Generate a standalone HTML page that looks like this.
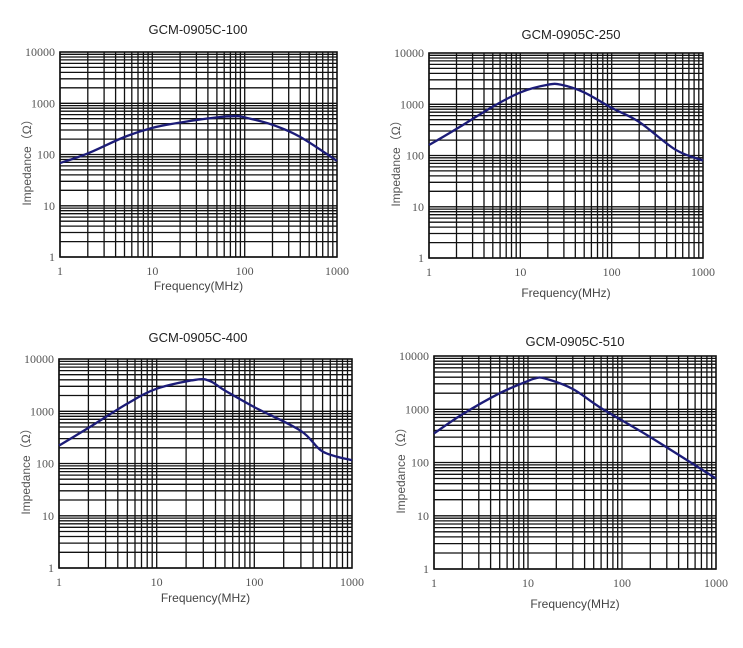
<!DOCTYPE html>
<html><head><meta charset="utf-8"><style>
html,body{margin:0;padding:0;background:#fff;width:743px;height:648px;overflow:hidden}
svg{display:block}
</style></head><body>
<svg id="s" width="743" height="648" xmlns="http://www.w3.org/2000/svg"></svg>
<script>
var charts=[
 {t:"GCM-0905C-100",x0:60,x1:337,y0:52,y1:257,tx:198,ty:34,fy:290,
  d:[[1,68],[2,105],[5,220],[10,330],[20,420],[50,530],[80,560],[100,530],[200,380],[400,220],[1000,75]]},
 {t:"GCM-0905C-250",x0:429,x1:703,y0:53,y1:258,tx:571,ty:39,fy:297,
  d:[[1,160],[2,330],[5,900],[10,1700],[20,2400],[28,2400],[50,1700],[100,850],[200,450],[500,130],[1000,80]]},
 {t:"GCM-0905C-400",x0:59,x1:352,y0:359,y1:568,tx:198,ty:342,fy:602,
  d:[[1,220],[2,480],[5,1400],[10,2700],[25,4000],[35,3800],[50,2500],[100,1200],[300,420],[500,170],[1000,115]]},
 {t:"GCM-0905C-510",x0:434,x1:716,y0:356,y1:569,tx:575,ty:346,fy:608,
  d:[[1,350],[2,800],[5,2000],[10,3400],[12,3800],[15,3800],[30,2400],[60,1050],[200,300],[1000,50]]}
];
var h="";
charts.forEach(function(c){
 var W=c.x1-c.x0,H=c.y1-c.y0;
 function X(f){return c.x0+Math.log10(f)/3*W}
 function Y(z){return c.y1-Math.log10(z)/4*H}
 for(var d=0;d<3;d++)for(var k=1;k<10;k++){var x=X(Math.pow(10,d)*k);h+='<line x1="'+x.toFixed(1)+'" y1="'+c.y0+'" x2="'+x.toFixed(1)+'" y2="'+c.y1+'" stroke="#111" stroke-width="1.3"/>';}
 for(var d=0;d<4;d++)for(var k=1;k<10;k++){var y=Y(Math.pow(10,d)*k);h+='<line x1="'+c.x0+'" y1="'+y.toFixed(1)+'" x2="'+c.x1+'" y2="'+y.toFixed(1)+'" stroke="#111" stroke-width="1.3"/>';}
 h+='<rect x="'+c.x0+'" y="'+c.y0+'" width="'+W+'" height="'+H+'" fill="none" stroke="#111" stroke-width="1.6"/>';
 var P=c.d.map(function(q){return [X(q[0]),Y(q[1])]});
 var s="M"+P[0][0].toFixed(1)+","+P[0][1].toFixed(1);
 for(var i=0;i<P.length-1;i++){
  var p0=P[i-1]||P[i],p1=P[i],p2=P[i+1],p3=P[i+2]||p2;
  var c1=[p1[0]+(p2[0]-p0[0])/6,p1[1]+(p2[1]-p0[1])/6],c2=[p2[0]-(p3[0]-p1[0])/6,p2[1]-(p3[1]-p1[1])/6];
  s+=" C"+c1[0].toFixed(1)+","+c1[1].toFixed(1)+" "+c2[0].toFixed(1)+","+c2[1].toFixed(1)+" "+p2[0].toFixed(1)+","+p2[1].toFixed(1);
 }
 h+='<path d="'+s+'" fill="none" stroke="#1c1c78" stroke-width="2.3" stroke-linejoin="round"/>';
 var yl=["1","10","100","1000","10000"];
 for(var i=0;i<5;i++)h+='<text x="'+(c.x0-5)+'" y="'+(Y(Math.pow(10,i))+4)+'" text-anchor="end" font-family="Liberation Serif,serif" font-size="12" fill="#555">'+yl[i]+'</text>';
 var xl=["1","10","100","1000"];
 for(var i=0;i<4;i++)h+='<text x="'+X(Math.pow(10,i))+'" y="'+(c.y1+18)+'" text-anchor="middle" font-family="Liberation Serif,serif" font-size="12" fill="#555">'+xl[i]+'</text>';
 h+='<text x="'+c.tx+'" y="'+c.ty+'" text-anchor="middle" font-family="Liberation Sans,sans-serif" font-size="13" fill="#222">'+c.t+'</text>';
 h+='<text x="'+((c.x0+c.x1)/2)+'" y="'+c.fy+'" text-anchor="middle" font-family="Liberation Sans,sans-serif" font-size="12" fill="#444">Frequency(MHz)</text>';
 var cy=(c.y0+c.y1)/2+5;
 h+='<text transform="translate('+(c.x0-29)+','+cy+') rotate(-90)" text-anchor="middle" font-family="Liberation Sans,Noto Sans CJK SC,sans-serif" font-size="12" fill="#555">Impedance（Ω）</text>';
});
document.getElementById("s").innerHTML=h;
</script>
</body></html>
